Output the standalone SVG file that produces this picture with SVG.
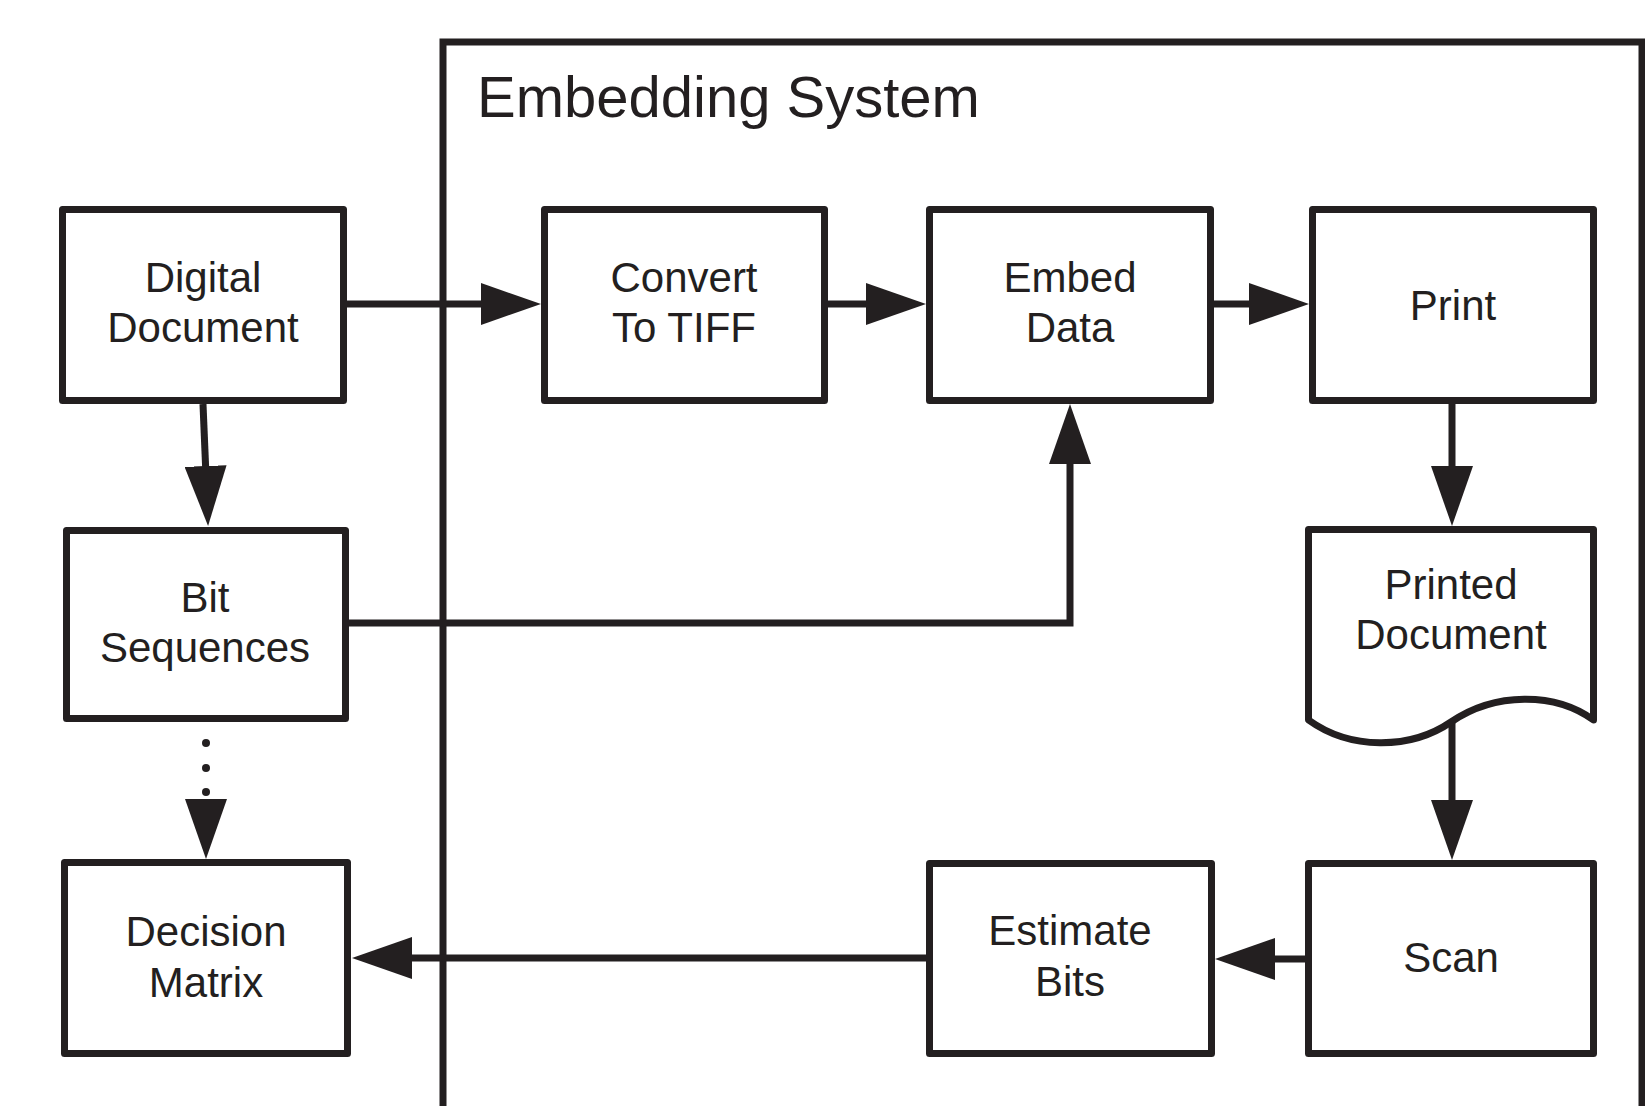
<svg xmlns="http://www.w3.org/2000/svg" width="1645" height="1106" viewBox="0 0 1645 1106">
<style>
.box{fill:#fff;stroke:#231f20;stroke-width:7;stroke-linejoin:round}
.frame{fill:none;stroke:#231f20;stroke-width:7}
.lbl{font-family:"Liberation Sans",Arial,sans-serif;font-size:42px;fill:#231f20;text-anchor:middle}
.title{font-family:"Liberation Sans",Arial,sans-serif;font-size:58px;fill:#231f20}
.conn{fill:none;stroke:#231f20;stroke-width:7}
</style>
<defs>
<marker id="ah" viewBox="0 0 60 42" refX="10" refY="21" markerWidth="60" markerHeight="42" markerUnits="userSpaceOnUse" orient="auto">
<path d="M0,0 L60,21 L0,42 z" fill="#231f20"/>
</marker>
</defs>
<rect width="1645" height="1106" fill="#fff"/>
<g id="embedding-system">
<rect class="frame" x="443" y="42" width="1199" height="1110"/>
<text class="title" x="477" y="117">Embedding System</text>
</g>
<g id="connectors">
<path class="conn" d="M347,304 H491" marker-end="url(#ah)"/>
<path class="conn" d="M828,304 H876" marker-end="url(#ah)"/>
<path class="conn" d="M1214,304 H1259" marker-end="url(#ah)"/>
<path class="conn" d="M1452,404 V476" marker-end="url(#ah)"/>
<path class="conn" d="M1452,720 V810" marker-end="url(#ah)"/>
<path class="conn" d="M1305,959 H1265" marker-end="url(#ah)"/>
<path class="conn" d="M926,958 H402" marker-end="url(#ah)"/>
<path class="conn" d="M349,623 H1070 V454" marker-end="url(#ah)"/>
<path class="conn" d="M203,404 L206,476" marker-end="url(#ah)"/>
<g id="dotted" fill="#231f20">
<circle cx="206" cy="743" r="4"/>
<circle cx="206" cy="768" r="4"/>
<circle cx="206" cy="792" r="4"/>
<path d="M185,799 L227,799 L206,859 z"/>
</g>
</g>
<g id="digital-document">
<rect class="box" x="62.5" y="209.5" width="281" height="191"/>
<text class="lbl" x="203" y="292">Digital</text>
<text class="lbl" x="203" y="342">Document</text>
</g>
<g id="convert-to-tiff">
<rect class="box" x="544.5" y="209.5" width="280" height="191"/>
<text class="lbl" x="684" y="292">Convert</text>
<text class="lbl" x="684" y="342">To TIFF</text>
</g>
<g id="embed-data">
<rect class="box" x="929.5" y="209.5" width="281" height="191"/>
<text class="lbl" x="1070" y="292">Embed</text>
<text class="lbl" x="1070" y="342">Data</text>
</g>
<g id="print">
<rect class="box" x="1312.5" y="209.5" width="281" height="191"/>
<text class="lbl" x="1453" y="320">Print</text>
</g>
<g id="bit-sequences">
<rect class="box" x="66.5" y="530.5" width="279" height="188"/>
<text class="lbl" x="205" y="612">Bit</text>
<text class="lbl" x="205" y="662">Sequences</text>
</g>
<g id="printed-document">
<path class="box" d="M1308.5,720 V529.5 H1593.5 V720 C1555,692 1495,692 1451,722 C1410,750 1350,750 1308.5,720 z"/>
<text class="lbl" x="1451" y="599">Printed</text>
<text class="lbl" x="1451" y="649">Document</text>
</g>
<g id="decision-matrix">
<rect class="box" x="64.5" y="862.5" width="283" height="191"/>
<text class="lbl" x="206" y="946">Decision</text>
<text class="lbl" x="206" y="997">Matrix</text>
</g>
<g id="estimate-bits">
<rect class="box" x="929.5" y="863.5" width="282" height="190"/>
<text class="lbl" x="1070" y="945">Estimate</text>
<text class="lbl" x="1070" y="996">Bits</text>
</g>
<g id="scan">
<rect class="box" x="1308.5" y="863.5" width="285" height="190"/>
<text class="lbl" x="1451" y="972">Scan</text>
</g>
</svg>
